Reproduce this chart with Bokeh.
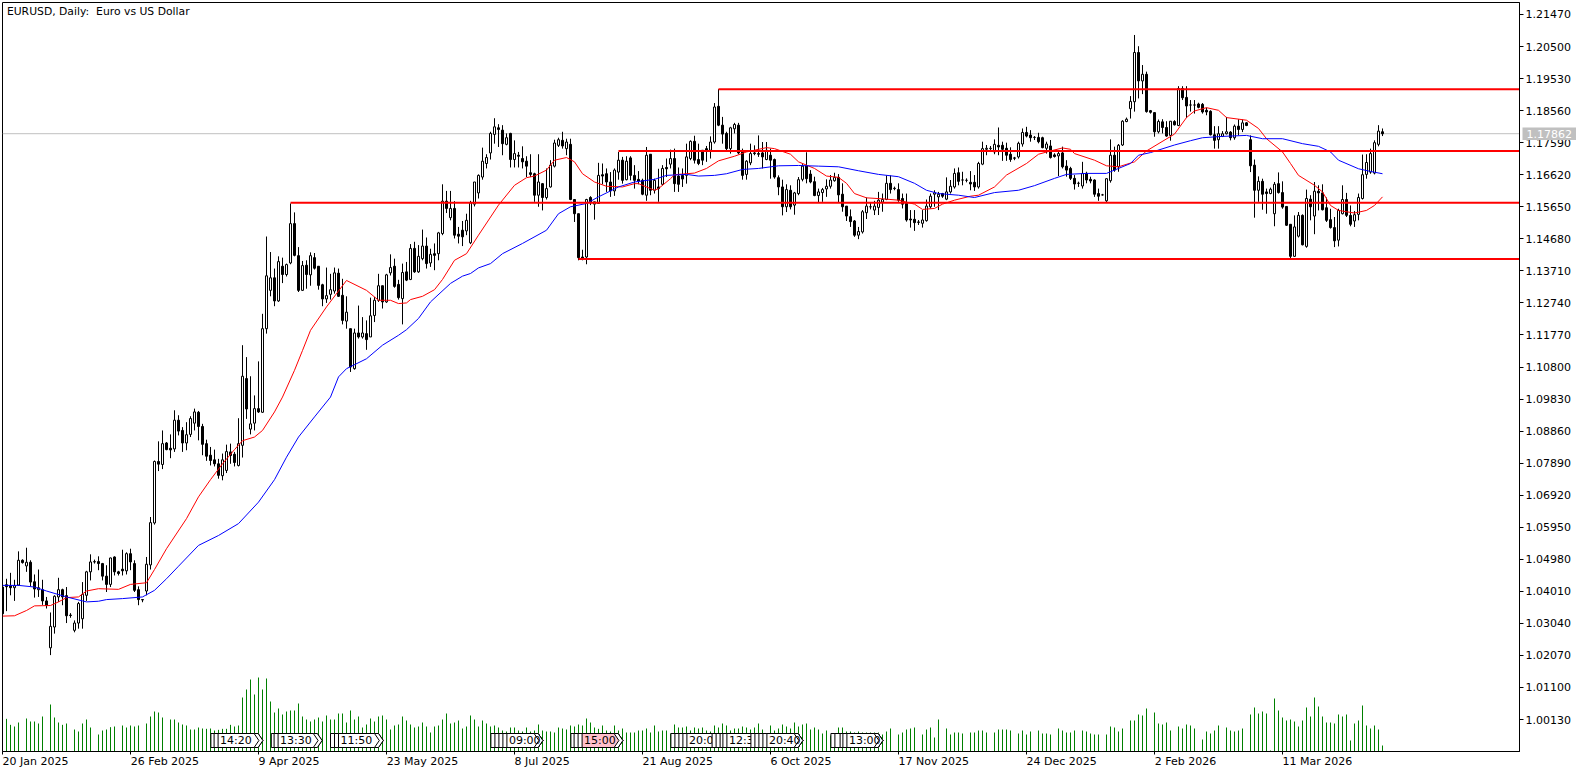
from bokeh.plotting import figure
from bokeh.layouts import column
from bokeh.models import Range1d, LinearAxis, FixedTicker, NumeralTickFormatter, Label, Span
from bokeh.core.properties import value
from bokeh.embed import file_html
from bokeh.resources import INLINE

# Prices, in units of 0.0001
open_pips = [
10414,10421,10418,10412,10420,10495,10478,10489,10430,10406,
10406,10372,10230,10293,10384,10406,10388,10329,10283,10305,
10318,10389,10460,10490,10491,10485,10447,10422,10505,10460,
10468,10463,10515,10485,10406,10376,10402,10481,10608,10794,
10785,10850,10834,10832,10919,10888,10850,10876,10910,10943,
10900,10848,10813,10799,10787,10751,10767,10823,10816,10782,
10843,11045,10892,10910,10954,10943,11196,11312,11350,11280,
11385,11360,11395,11514,11417,11312,11388,11359,11411,11385,
11329,11286,11300,11310,11364,11297,11219,11196,11075,11183,
11171,11181,11171,11236,11282,11326,11277,11365,11385,11330,
11287,11368,11345,11439,11368,11408,11446,11395,11423,11423,
11484,11582,11532,11560,11482,11494,11492,11456,11573,11607,
11655,11696,11728,11784,11804,11797,11754,11787,11708,11721,
11711,11703,11668,11665,11600,11635,11593,11625,11688,11751,
11766,11741,11754,11587,11544,11413,11413,11593,11573,11575,
11662,11665,11640,11613,11670,11706,11647,11713,11660,11648,
11645,11600,11724,11615,11625,11633,11684,11694,11711,11658,
11660,11660,11711,11763,11708,11736,11741,11736,11761,11869,
11812,11787,11741,11801,11812,11731,11663,11698,11728,11726,
11728,11708,11721,11708,11653,11625,11565,11615,11570,11605,
11648,11689,11664,11641,11599,11608,11619,11627,11644,11654,
11603,11567,11535,11522,11479,11489,11547,11565,11555,11563,
11579,11587,11636,11621,11617,11590,11575,11528,11527,11519,
11515,11523,11565,11603,11595,11605,11588,11610,11625,11668,
11646,11645,11639,11639,11625,11694,11739,11741,11731,11751,
11751,11742,11724,11713,11716,11755,11790,11782,11775,11775,
11774,11742,11749,11722,11719,11728,11688,11681,11651,11636,
11628,11666,11648,11646,11605,11601,11583,11644,11721,11686,
11752,11823,11862,11883,12032,11946,11966,11856,11850,11792,
11822,11805,11781,11823,11811,11923,11896,11873,11873,11876,
11875,11857,11854,11783,11768,11778,11786,11791,11774,11809,
11799,11819,11768,11691,11615,11642,11610,11605,11544,11635,
11608,11566,11512,11415,11476,11539,11445,11588,11537,11612,
11607,11562,11526,11502,11464,11544,11587,11539,11522,11542,
11590,11663,11670,11667,11754,11792]

high_pips = [
10419,10439,10457,10436,10522,10498,10533,10495,10452,10467,
10436,10384,10337,10389,10442,10409,10414,10335,10313,10369,
10429,10463,10513,10497,10507,10487,10480,10503,10507,10463,
10527,10519,10530,10495,10416,10376,10505,10626,10797,10855,
10888,10853,10876,10949,10934,10898,10913,10931,10954,10947,
10908,10860,10838,10830,10802,10818,10845,10848,10823,10925,
11146,11110,11052,10994,11097,11241,11475,11428,11378,11415,
11411,11393,11575,11548,11443,11401,11403,11427,11425,11385,
11332,11381,11362,11381,11378,11347,11294,11196,11196,11266,
11231,11221,11290,11292,11362,11326,11362,11421,11408,11344,
11393,11398,11452,11459,11449,11496,11472,11438,11454,11489,
11633,11613,11613,11582,11504,11522,11544,11583,11640,11663,
11744,11724,11792,11833,11815,11812,11787,11789,11766,11731,
11748,11718,11724,11668,11724,11637,11681,11706,11768,11774,
11792,11771,11771,11587,11544,11435,11589,11597,11580,11698,
11696,11681,11670,11681,11731,11716,11718,11718,11691,11673,
11650,11746,11724,11650,11680,11691,11711,11738,11741,11684,
11681,11756,11766,11780,11756,11736,11749,11778,11879,11921,
11837,11792,11807,11819,11819,11741,11706,11756,11751,11781,
11761,11761,11741,11711,11660,11647,11633,11630,11610,11655,
11694,11730,11676,11656,11620,11622,11648,11661,11668,11664,
11636,11567,11557,11525,11504,11555,11593,11577,11583,11610,
11605,11660,11660,11626,11636,11605,11605,11555,11555,11525,
11555,11587,11605,11615,11610,11607,11654,11646,11681,11684,
11671,11651,11673,11661,11701,11762,11752,11749,11769,11805,
11762,11759,11745,11716,11762,11802,11807,11797,11779,11789,
11777,11762,11767,11727,11734,11747,11706,11686,11661,11641,
11701,11671,11656,11648,11620,11604,11651,11769,11747,11755,
11827,11835,11900,12085,12051,11994,11974,11858,11851,11829,
11830,11824,11824,11827,11930,11930,11930,11888,11888,11880,
11879,11865,11857,11809,11809,11794,11837,11794,11814,11830,
11829,11821,11781,11708,11657,11650,11620,11623,11640,11669,
11642,11567,11512,11539,11549,11542,11617,11600,11640,11630,
11633,11593,11559,11534,11559,11630,11607,11569,11552,11605,
11723,11724,11741,11766,11812,11802]

low_pips = [
10278,10341,10389,10372,10418,10485,10460,10416,10382,10384,
10360,10349,10208,10273,10369,10359,10305,10321,10277,10288,
10288,10372,10434,10485,10465,10434,10399,10414,10449,10449,
10449,10452,10465,10399,10359,10368,10389,10467,10603,10765,
10771,10828,10804,10823,10873,10823,10828,10868,10888,10858,
10813,10796,10782,10779,10742,10737,10759,10787,10779,10779,
10806,10923,10876,10888,10941,10941,11181,11294,11264,11277,
11334,11354,11391,11415,11307,11310,11317,11326,11375,11314,
11264,11274,11284,11302,11292,11209,11196,11065,11072,11166,
11166,11132,11171,11216,11277,11257,11274,11357,11320,11284,
11209,11340,11343,11365,11365,11403,11378,11383,11373,11403,
11479,11546,11524,11469,11454,11446,11479,11452,11566,11590,
11647,11681,11708,11756,11746,11721,11751,11684,11684,11684,
11681,11655,11655,11580,11565,11554,11587,11623,11684,11746,
11741,11721,11585,11519,11403,11403,11391,11570,11526,11575,
11633,11610,11595,11598,11647,11635,11645,11645,11620,11633,
11600,11583,11600,11605,11580,11630,11655,11681,11610,11610,
11625,11635,11706,11696,11691,11691,11701,11711,11756,11809,
11756,11731,11726,11787,11724,11647,11647,11691,11721,11716,
11681,11706,11650,11650,11600,11539,11549,11557,11541,11600,
11642,11636,11636,11597,11578,11580,11595,11620,11641,11577,
11550,11522,11504,11474,11467,11484,11528,11557,11540,11540,
11550,11585,11605,11615,11580,11560,11520,11502,11492,11510,
11502,11520,11560,11565,11555,11592,11585,11605,11620,11630,
11630,11639,11615,11613,11620,11691,11721,11734,11724,11721,
11704,11704,11701,11706,11711,11747,11775,11762,11767,11757,
11742,11726,11711,11714,11658,11681,11656,11646,11617,11625,
11620,11636,11636,11595,11583,11599,11579,11638,11671,11671,
11749,11821,11832,11853,11893,11906,11850,11847,11777,11787,
11787,11777,11765,11811,11809,11888,11834,11853,11847,11863,
11847,11842,11781,11741,11741,11776,11784,11766,11768,11781,
11791,11809,11670,11532,11580,11556,11544,11603,11506,11605,
11559,11507,11408,11413,11472,11448,11441,11524,11482,11554,
11554,11519,11499,11443,11445,11542,11534,11506,11504,11524,
11587,11650,11665,11663,11748,11779]

close_pips = [
10333,10415,10412,10418,10495,10488,10489,10429,10408,10412,
10372,10358,10295,10386,10406,10384,10327,10328,10305,10364,
10392,10460,10490,10491,10485,10447,10422,10502,10460,10455,
10463,10515,10490,10404,10376,10375,10483,10609,10794,10786,
10848,10830,10829,10919,10886,10850,10875,10924,10944,10900,
10846,10810,10797,10787,10752,10799,10824,10812,10791,10848,
11052,10953,10908,10954,10944,11196,11356,11350,11280,11399,
11360,11390,11514,11418,11312,11387,11360,11417,11379,11327,
11286,11296,11314,11365,11294,11221,11246,11080,11183,11171,
11183,11163,11235,11282,11326,11277,11359,11381,11324,11290,
11366,11343,11439,11368,11415,11446,11393,11421,11418,11486,
11582,11560,11560,11479,11476,11474,11524,11577,11640,11660,
11703,11714,11787,11807,11799,11756,11774,11708,11726,11718,
11701,11688,11663,11600,11640,11593,11620,11691,11758,11768,
11749,11761,11587,11544,11411,11408,11587,11577,11580,11660,
11658,11640,11613,11676,11706,11645,11703,11660,11645,11643,
11603,11721,11615,11645,11620,11681,11680,11711,11635,11633,
11649,11716,11763,11706,11696,11706,11736,11761,11867,11812,
11785,11741,11804,11814,11728,11660,11703,11726,11726,11724,
11716,11736,11706,11655,11625,11565,11617,11565,11607,11647,
11688,11650,11640,11599,11610,11617,11627,11646,11654,11601,
11565,11537,11520,11479,11490,11550,11567,11565,11567,11585,
11587,11636,11617,11620,11585,11573,11525,11525,11517,11518,
11525,11567,11597,11607,11603,11597,11610,11627,11666,11642,
11646,11645,11634,11625,11696,11741,11742,11742,11754,11746,
11739,11721,11708,11712,11757,11790,11779,11774,11775,11762,
11744,11755,11714,11717,11726,11686,11676,11651,11634,11636,
11666,11646,11643,11603,11597,11601,11650,11721,11676,11751,
11824,11830,11884,12032,11946,11966,11853,11851,11792,11823,
11805,11779,11824,11813,11923,11895,11870,11873,11873,11866,
11852,11852,11783,11766,11786,11786,11792,11774,11809,11799,
11819,11811,11689,11615,11642,11603,11605,11618,11633,11608,
11564,11509,11415,11504,11539,11450,11590,11565,11612,11607,
11556,11524,11502,11462,11554,11587,11539,11512,11541,11593,
11662,11699,11726,11759,11794,11786]

volumes = [
0,98,80,75,87,0,99,90,90,84,
105,3,141,102,87,80,84,0,66,60,
84,96,72,0,51,63,66,73,75,0,
78,72,78,75,78,0,84,105,120,117,
102,0,96,96,87,81,78,66,66,72,
69,68,69,63,65,68,68,80,75,78,
162,186,216,171,222,186,219,150,117,129,
111,120,123,123,144,105,96,90,96,102,
90,108,96,96,114,114,87,123,96,105,
72,81,99,90,105,108,96,66,78,81,
105,93,81,72,75,87,75,57,75,78,
96,114,84,87,93,69,75,108,96,75,
93,84,75,78,72,63,60,72,72,63,
60,72,60,63,81,63,60,60,57,72,
69,66,78,75,81,78,99,87,72,68,
78,63,60,78,63,69,57,57,57,63,
63,69,57,78,60,63,63,54,81,72,
72,75,63,72,69,72,63,60,78,72,
84,78,63,69,69,75,72,66,72,84,
66,53,78,63,69,81,75,69,87,75,
81,84,66,72,66,54,63,48,54,72,
72,60,60,57,60,57,57,57,57,57,
51,60,69,0,51,57,66,69,72,0,
51,66,72,42,96,0,69,51,57,57,
54,0,57,57,63,63,57,0,57,66,
66,66,63,0,54,63,51,60,0,63,
54,54,51,0,69,63,57,57,63,0,
63,60,54,51,51,0,51,75,72,60,
69,0,93,93,111,108,129,0,117,84,
81,87,63,0,75,69,81,78,69,0,
36,60,54,63,78,0,72,63,60,63,
69,0,111,132,114,120,114,3,159,123,
102,93,96,90,75,93,132,105,162,135,
105,87,87,84,111,105,111,33,84,93,
138,78,69,78,66,18]

red_ma_bars = [0,3,6,8,12,14,16,19,21,24,29,32,36,38,41,46,49,52,55,58,60,63,65,68,70,73,75,77,81,86,91,94,97,99,101,102,105,108,110,113,116,119,124,128,131,133,136,138,141,143,145,148,151,155,158,159,163,164,167,168,173,176,179,183,186,191,193,197,199,203,206,209,211,213,216,220,224,228,230,233,235,238,242,244,248,251,256,259,262,265,267,268,273,276,279,283,286,293,296,298,301,304,306,311,314,316,320,322,324,328,330,332,334,338,341,343,345]
red_ma_pips = [10326,10327,10343,10357,10358,10369,10382,10384,10402,10409,10407,10422,10427,10467,10530,10621,10687,10739,10787,10830,10857,10868,10888,10944,10989,11070,11130,11191,11262,11342,11312,11282,11282,11272,11274,11284,11294,11314,11345,11403,11423,11479,11570,11630,11653,11658,11676,11706,11714,11701,11665,11640,11627,11625,11635,11635,11615,11620,11650,11662,11667,11681,11704,11718,11731,11744,11741,11724,11701,11681,11658,11654,11636,11605,11592,11589,11585,11573,11557,11560,11573,11585,11597,11600,11625,11661,11696,11724,11734,11743,11739,11726,11706,11689,11686,11701,11734,11785,11835,11855,11865,11857,11835,11827,11802,11771,11731,11696,11660,11630,11610,11569,11554,11546,11554,11569,11595]

blue_ma_bars = [0,4,8,11,16,21,24,26,30,35,38,41,44,49,54,59,64,68,71,74,78,82,84,86,91,95,99,101,104,107,112,115,117,119,122,125,130,136,139,142,146,149,154,158,163,166,171,174,178,181,185,189,194,199,204,209,214,219,224,228,231,234,239,243,248,254,258,263,266,271,276,279,282,284,287,293,297,300,305,311,315,320,325,329,332,334,339,342,345]
blue_ma_pips = [10419,10419,10414,10402,10384,10369,10371,10376,10379,10384,10404,10439,10477,10540,10570,10606,10671,10739,10807,10868,10929,10989,11050,11075,11105,11146,11176,11193,11227,11277,11333,11355,11363,11380,11393,11423,11454,11494,11544,11565,11575,11595,11625,11640,11648,11660,11663,11658,11660,11665,11678,11681,11689,11690,11688,11686,11674,11663,11656,11636,11615,11605,11600,11593,11608,11615,11629,11651,11663,11666,11666,11681,11696,11721,11729,11752,11765,11774,11778,11781,11771,11771,11756,11748,11731,11706,11680,11672,11665]

level_prices = [1.1921, 1.1734, 1.1577, 1.1407]
level_start_bars = [179, 154, 72, 144]
last_price = 1.17862

price_ticks = [1.2147,1.2050,1.1953,1.1856,1.1759,1.1662,1.1565,1.1468,1.1371,1.1274,1.1177,1.1080,1.0983,1.0886,1.0789,1.0692,1.0595,1.0498,1.0401,1.0304,1.0207,1.0110,1.0013]
date_bars = [0,32,64,96,128,160,192,224,256,288,320]
date_labels = ["20 Jan 2025","26 Feb 2025","9 Apr 2025","23 May 2025","8 Jul 2025","21 Aug 2025","6 Oct 2025","17 Nov 2025","24 Dec 2025","2 Feb 2026","11 Mar 2026"]
# half width of each date text, in bars, so its left edge sits on its tick
date_half_widths = [8.25,8.6,7.6,9.0,6.9,8.8,7.6,8.8,8.8,7.75,8.7]

event_labels = ["14:20","13:30","11:50","09:00","15:00","20:00","12:30","20:40","13:00"]
event_bars = [53.9,68.9,84.0,126.1,144.9,171.1,181.1,191.1,211.1]
event_ends = [65.1,79.9,95.2,135.1,155.1,180.0,190.0,200.1,220.1]
event_earlier = [[52.1,52.9],[67.2,67.9],[82.0,83.0],[122.1,123.1,124.1,125.1],[142.1,142.9,143.9],[167.1,168.1,169.1,170.1],[177.4,178.4,179.4,180.1],[187.1,188.1,189.1,190.1],[207.1,208.1,209.4,210.1]]
event_fills = ["white","white","white","white","#FFC0CB","white","white","white","white"]

FONT = "DejaVu Sans"
bars = list(range(len(close_pips)))
to_price = lambda seq: [v / 10000 for v in seq]
opens, highs, lows, closes = map(to_price, (open_pips, high_pips, low_pips, close_pips))

p = figure(width=1589, height=775, output_backend="svg", toolbar_location=None,
           x_range=Range1d(0, 379.25), y_range=Range1d(0.99162, 1.21833),
           y_axis_location="right", min_border_left=2, min_border_top=2,
           min_border_right=70, min_border_bottom=24, frame_align=False,
           background_fill_color="white", border_fill_color="white")
p.grid.visible = False
p.outline_line_color = "black"
p.outline_line_width = 1
p.extra_y_ranges = {"vol": Range1d(0, 2247)}

ya = p.yaxis[0]
ya.ticker = FixedTicker(ticks=price_ticks)
ya.formatter = NumeralTickFormatter(format="0.00000")
ya.major_label_text_font = FONT
ya.major_label_text_font_size = "11px"
ya.major_label_text_color = "black"
ya.major_tick_in = 0
ya.major_tick_out = 4
ya.minor_tick_line_color = None
ya.major_label_standoff = 2
ya.axis_line_color = "black"

xa = p.xaxis[0]
xa.ticker = FixedTicker(ticks=date_bars)
xa.major_label_overrides = {b: "" for b in date_bars}
xa.major_label_text_font_size = "1px"
xa.major_label_standoff = 0
xa.major_tick_in = 0
xa.major_tick_out = 3
xa.minor_tick_line_color = None
xa.axis_line_color = "black"

date_centres = [round(b + h, 2) for b, h in zip(date_bars, date_half_widths)]
xb = LinearAxis(ticker=FixedTicker(ticks=date_centres),
                major_label_overrides=dict(zip(date_centres, date_labels)),
                major_label_text_font=FONT, major_label_text_font_size="11px",
                major_label_text_color="black", major_label_standoff=0,
                major_tick_in=0, major_tick_out=0,
                major_tick_line_color=None, minor_tick_line_color=None, axis_line_color=None)
p.add_layout(xb, "below")

p.add_layout(Span(location=last_price, dimension="width", line_color="#C0C0C0", line_width=1, level="underlay"))

# volumes
p.segment(bars, [0] * len(bars), bars, volumes, line_color="#008000", line_width=1, y_range_name="vol")

# candles
p.segment(bars, lows, bars, highs, line_color="black", line_width=1)
up = [i for i in bars if closes[i] >= opens[i]]
dn = [i for i in bars if closes[i] < opens[i]]
p.vbar([bars[i] for i in up], 0.5, [opens[i] for i in up], [closes[i] for i in up],
       fill_color="white", line_color="black", line_width=1)
p.vbar([bars[i] for i in dn], 0.5, [closes[i] for i in dn], [opens[i] for i in dn],
       fill_color="black", line_color="black", line_width=1)

# moving averages
p.line(red_ma_bars, to_price(red_ma_pips), line_color="#FF0000", line_width=1)
p.line(blue_ma_bars, to_price(blue_ma_pips), line_color="#0000FF", line_width=1)

# horizontal levels
p.segment(level_start_bars, level_prices, [379.3] * len(level_prices), level_prices,
          line_color="#FF0000", line_width=2)

# event flags along the bottom edge (volume units: 3 per pixel)
F_TOP, F_MID, F_BOT = 54, 33, 12
for label, start, end, earlier, fill in zip(event_labels, event_bars, event_ends, event_earlier, event_fills):
    xs, ys = [], []
    for b in earlier:
        xs.append([b, end - 1.2, end, end - 1.2, b])
        ys.append([F_TOP, F_TOP, F_MID, F_BOT, F_BOT])
    xs.append([start, end - 2.2, end - 1.0, end - 2.2, start])
    ys.append([F_TOP, F_TOP, F_MID, F_BOT, F_BOT])
    fills = ["white"] * len(earlier) + [fill]
    p.patches(xs, ys, fill_color=fills, line_color="black", line_width=1, y_range_name="vol")
    p.text([start + 0.5], [F_MID], text=[label], text_font=value(FONT), text_font_size="11px",
           text_color="black", text_baseline="middle", text_align="left", y_range_name="vol")

# title
p.add_layout(Label(x=1.1, y=2219, y_range_name="vol", text="EURUSD, Daily:\u00a0 Euro vs US Dollar", text_font=FONT,
                   text_font_size="10.8px", text_color="black", text_align="left", text_baseline="middle"))

# last price tag: a small figure laid over the price axis
tag = figure(width=54, height=13, output_backend="svg", toolbar_location=None,
             x_axis_type=None, y_axis_type=None, min_border=0, frame_align=False,
             x_range=Range1d(0, 54), y_range=Range1d(last_price - 0.002, last_price + 0.002),
             background_fill_color="#C0C0C0", border_fill_color="#C0C0C0",
             margin=(-648, 0, 0, 1522))
tag.grid.visible = False
tag.outline_line_color = None
tag.text([4], [last_price], text=[f"{last_price:.5f}"], text_font=value(FONT), text_font_size="11px",
         text_color="white", text_baseline="middle", text_align="left")

root = column(p, tag, spacing=0)
open("out.html", "w").write(file_html(root, INLINE))
